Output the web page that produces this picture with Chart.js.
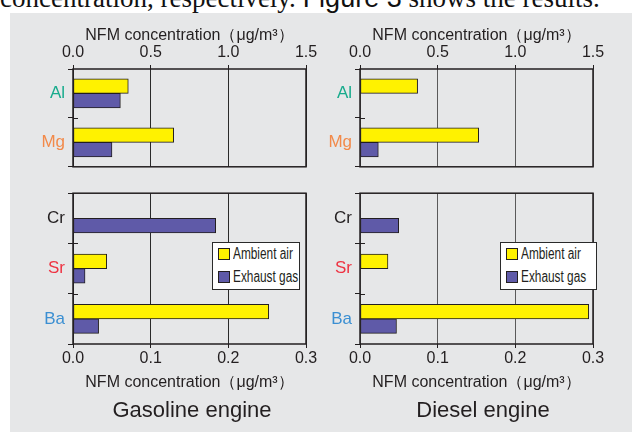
<!DOCTYPE html>
<html><head><meta charset="utf-8">
<script src="https://cdn.jsdelivr.net/npm/chart.js@4/dist/chart.umd.min.js"></script>
<style>
html,body{margin:0;padding:0;background:#fff;}
#root{position:relative;width:632px;height:432px;overflow:hidden;background:#fff;font-family:"Liberation Sans",Arial,sans-serif;color:#231f20;}
#panel{position:absolute;left:10px;top:13px;right:0;bottom:0;background:#e6e7e8;}
#lead{position:absolute;left:0;top:-15px;font:27px/27px "Liberation Serif","Times New Roman",serif;white-space:nowrap;color:#111;}
#lead .fig{font-family:"Liberation Sans",Arial,sans-serif;}
canvas{position:absolute;}
.eng{position:absolute;font-size:22px;line-height:26px;text-align:center;width:240px;white-space:nowrap;}
.legend{position:absolute;background:#fff;border:1.5px solid #2a2a2a;box-sizing:border-box;}
.li{position:absolute;left:5px;height:14px;white-space:nowrap;}
.sw{position:absolute;left:0;top:0;width:12px;height:12px;box-sizing:border-box;border:1px solid #231f20;}
.lt{position:absolute;left:15px;top:-3px;font-size:16px;line-height:18px;transform:scaleX(0.74);transform-origin:0 50%;}
</style></head>
<body>
<div id="root">
  <div id="lead">concentration, respectively. <span class="fig">Figure 3</span> shows the results.</div>
  <div id="panel"></div>
  <canvas id="gTop" width="330" height="160" style="left:0;top:20px"></canvas>
  <canvas id="gBot" width="330" height="220" style="left:0;top:180px"></canvas>
  <canvas id="dTop" width="307" height="160" style="left:325px;top:20px"></canvas>
  <canvas id="dBot" width="307" height="220" style="left:325px;top:180px"></canvas>
  <div class="eng" style="left:72px;top:397px">Gasoline engine</div>
  <div class="eng" style="left:363px;top:397px">Diesel engine</div>
</div>
<script>
// ---- data ----
const elementsTop = ['Al', 'Mg'];
const elementsBottom = ['Cr', 'Sr', 'Ba'];
const seriesNames = ['Ambient air', 'Exhaust gas'];
const gasolineAmbientTop = [0.356, 0.648];
const gasolineExhaustTop = [0.305, 0.251];
const gasolineAmbientBottom = [0, 0.0434, 0.252];
const gasolineExhaustBottom = [0.1837, 0.0155, 0.033];
const dieselAmbientTop = [0.371, 0.764];
const dieselExhaustTop = [0, 0.118];
const dieselAmbientBottom = [0, 0.036, 0.2945];
const dieselExhaustBottom = [0.0498, 0, 0.047];
const topTicks = [0, 0.5, 1.0, 1.5];
const bottomTicks = [0, 0.1, 0.2, 0.3];
const axisTitle = 'NFM concentration（μg/m³）';

// ---- styles ----
const labelColors = {Al: '#17ab8c', Mg: '#f28a4a', Cr: '#231f20', Sr: '#ee3342', Ba: '#3b8fd2'};
const YELLOW = '#fff200', PURPLE = '#5f5aa8', EDGE = '#231f20', INK = '#231f20';
const FONT = '"Liberation Sans", Arial, sans-serif';

const framePlugin = {
  id: 'frame',
  afterDraw(chart) {
    const {ctx, chartArea: a} = chart;
    const ys = chart.scales.y;
    ctx.save();
    ctx.strokeStyle = INK;
    ctx.lineWidth = 1;
    const n = ys.getLabels().length;
    for (let i = 0; i < n - 1; i++) {
      const y = Math.round((ys.getPixelForValue(i) + ys.getPixelForValue(i + 1)) / 2) + 0.5;
      ctx.beginPath(); ctx.moveTo(a.left, y); ctx.lineTo(a.left + 5, y); ctx.stroke();
    }
    ctx.lineWidth = 1.5;
    ctx.strokeRect(a.left, a.top, a.right - a.left, a.bottom - a.top);
    ctx.restore();
  }
};

function makeChart(id, labels, amb, exh, opts) {
  const tickList = opts.top ? topTicks : bottomTicks;
  return new Chart(document.getElementById(id), {
    type: 'bar',
    data: {
      labels: labels,
      datasets: [
        {label: seriesNames[0], data: amb, backgroundColor: YELLOW, borderColor: EDGE, borderWidth: 1, borderSkipped: false, barThickness: 14.5},
        {label: seriesNames[1], data: exh, backgroundColor: PURPLE, borderColor: EDGE, borderWidth: 1, borderSkipped: false, barThickness: 14.5}
      ]
    },
    options: {
      indexAxis: 'y', responsive: false, animation: false, devicePixelRatio: 1,
      layout: {padding: opts.padding},
      plugins: {legend: {display: false}, tooltip: {enabled: false}, title: {display: false}},
      scales: {
        x: {
          position: opts.top ? 'top' : 'bottom',
          min: tickList[0], max: tickList[tickList.length - 1],
          afterBuildTicks: s => { s.ticks = tickList.map(v => ({value: v})); },
          afterFit: s => { s.height = opts.xh; },
          ticks: {callback: v => Number(v).toFixed(1), color: INK, font: {family: FONT, size: 16}, padding: opts.top ? 3 : 1, maxRotation: 0, autoSkip: false},
          grid: {color: opts.gridColor, lineWidth: 1, tickLength: 4, tickColor: INK},
          border: {display: false},
          title: {display: true, text: axisTitle, color: INK, font: {family: FONT, size: 16}, padding: opts.top ? {top: 6, bottom: 0} : {top: 0, bottom: 8}}
        },
        y: {
          afterFit: s => { s.width = opts.yw; },
          ticks: {color: c => labelColors[labels[c.index]], font: {family: FONT, size: 17}, padding: 3},
          grid: {drawOnChartArea: false, tickLength: 5, tickColor: INK, offset: true},
          border: {display: false}
        }
      }
    },
    plugins: [framePlugin]
  });
}

const charts = [
  makeChart('gTop', elementsTop, gasolineAmbientTop, gasolineExhaustTop, {top: true, xh: 49, yw: 73, gridColor: '#2a2a2a', padding: {left: 0, right: 24, top: 0, bottom: 7}}),
  makeChart('gBot', elementsBottom, gasolineAmbientBottom, gasolineExhaustBottom, {top: false, xh: 56, yw: 73, gridColor: '#2a2a2a', padding: {left: 0, right: 24, top: 6, bottom: 0}}),
  makeChart('dTop', elementsTop, dieselAmbientTop, dieselExhaustTop, {top: true, xh: 49, yw: 35, gridColor: '#5a5a5a', padding: {left: 0, right: 39, top: 0, bottom: 7}}),
  makeChart('dBot', elementsBottom, dieselAmbientBottom, dieselExhaustBottom, {top: false, xh: 56, yw: 35, gridColor: '#5a5a5a', padding: {left: 0, right: 39, top: 6, bottom: 0}})
];

function addLegend(chart, left, top, width, height) {
  const box = document.createElement('div');
  box.className = 'legend';
  Object.assign(box.style, {left: left + 'px', top: top + 'px', width: width + 'px', height: height + 'px'});
  chart.data.datasets.forEach((ds, i) => {
    const item = document.createElement('div');
    item.className = 'li';
    item.style.top = (5 + i * 23) + 'px';
    const sw = document.createElement('div');
    sw.className = 'sw'; sw.style.background = ds.backgroundColor;
    const t = document.createElement('div');
    t.className = 'lt'; t.textContent = ds.label;
    item.appendChild(sw); item.appendChild(t);
    box.appendChild(item);
  });
  document.getElementById('root').appendChild(box);
}
addLegend(charts[1], 212, 242, 88, 48);
addLegend(charts[3], 500, 242, 97, 48);
</script>
</body></html>
